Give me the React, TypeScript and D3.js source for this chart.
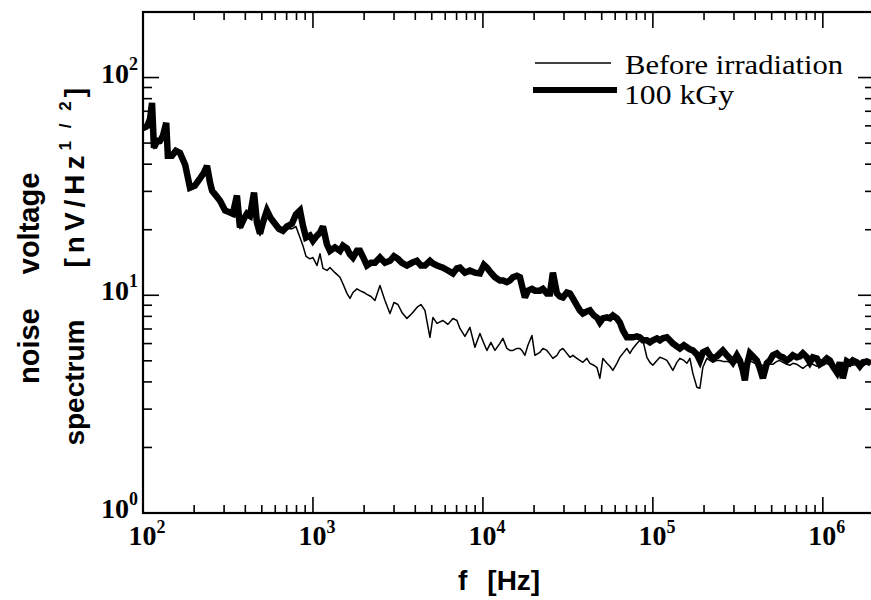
import React from "react";
import * as d3 from "d3";

// ---- data ----
const freq = [100,106,110,113,116,121,126,131,137,140,148,156,165,177,189,202,216,228,238,248,255,269,284,304,325,338,357,372,393,409,426,450,468,488,508,536,566,598,631,666,703,752,794,839,873,910,960,1000,1056,1100,1145,1209,1259,1347,1442,1501,1585,1651,1719,1815,1890,1995,2078,2194,2316,2478,2652,2838,2996,3162,3338,3572,3822,4090,4318,4559,4878,5080,5363,5817,6225,6661,7032,7324,7836,8386,8973,9602,10140,10560,11140,11770,12590,13110,13840,14420,15010,15850,16510,16960,17660,18400,19420,20230,21640,22540,23790,24780,25810,27250,28380,29550,31200,32490,33840,35720,37200,38750,40900,42600,44970,46840,48780,50800,53630,55850,58170,61410,63960,66610,70320,73240,76270,80520,83860,87340,92200,96020,100000,105600,110000,114500,120900,125900,131100,138400,144200,152200,158500,165100,171900,181500,189000,196800,207800,216400,225400,237900,247800,258100,272500,283800,295500,312000,324900,338400,347700,357200,372000,387500,409000,426000,443700,468400,487800,508000,536300,558500,581700,614100,639600,666100,703200,732400,762700,805200,838600,873400,922000,960200,1000000,1056000,1100000,1145000,1209000,1259000,1311000,1384000,1442000,1501000,1585000,1651000,1719000,1815000,1916000];

const after100kGy = [58.7,60.0,64.6,76.5,47.6,51.2,51.2,54.0,61.9,43.7,43.7,46.1,45.1,39.8,31.2,31.9,34.3,36.5,39.3,32.9,30.2,28.7,27.2,24.5,24.0,23.7,28.7,20.5,22.5,23.7,23.2,29.6,21.6,19.2,21.6,24.5,22.5,21.3,20.2,19.8,20.7,21.3,23.5,24.5,20.9,18.4,18.8,17.8,18.8,19.4,20.7,17.1,16.0,16.6,16.0,16.9,16.4,15.4,14.9,16.0,16.0,14.7,13.7,14.1,14.1,14.9,14.1,14.4,15.1,14.7,14.1,13.7,14.1,14.4,13.7,13.7,14.4,14.0,13.7,13.4,13.0,12.6,13.3,13.4,12.7,13.0,12.7,12.6,13.8,13.4,12.7,12.1,11.7,11.7,11.5,11.7,12.1,12.3,12.1,11.1,9.77,10.5,10.7,10.5,10.5,10.7,10.2,10.2,12.7,10.2,9.87,9.77,10.3,10.2,9.67,8.98,8.52,8.25,8.43,8.52,8.08,7.91,7.50,7.83,7.91,7.83,8.08,7.83,7.50,6.90,6.41,6.41,6.41,6.47,6.41,6.21,6.21,6.08,6.21,6.34,6.21,6.34,6.41,6.21,6.01,5.83,5.70,5.89,5.77,5.64,5.58,5.35,5.02,5.47,5.58,5.30,5.13,5.24,5.41,5.58,5.30,5.13,4.92,5.30,5.02,4.52,4.07,4.77,5.41,5.24,5.02,4.62,4.16,4.87,5.02,5.30,5.41,5.24,5.19,5.02,5.13,5.30,5.19,5.24,5.41,5.19,4.92,5.19,5.13,4.82,4.92,5.13,5.02,4.72,4.43,4.92,4.16,4.97,4.87,5.02,4.92,4.72,4.92,4.97,4.87];

const beforeIrradiation = [56.9,58.1,63.3,71.8,47.1,50.2,49.6,52.3,58.1,42.8,42.8,45.1,44.2,38.1,30.9,31.5,33.6,35.8,37.3,32.2,29.6,28.1,26.3,24.0,23.5,23.0,27.2,20.2,22.0,23.0,22.5,27.2,21.1,18.8,20.7,23.5,22.0,20.7,19.8,19.4,20.2,20.2,20.7,18.4,16.9,15.1,14.7,14.9,13.7,15.5,13.3,13.0,13.4,12.7,12.1,11.3,10.2,9.67,10.3,10.7,10.5,10.3,10.1,9.87,9.47,11.1,9.47,8.25,9.27,9.07,8.34,7.83,8.25,8.79,9.07,8.52,6.41,7.91,7.43,7.66,7.35,7.83,7.66,7.04,6.47,7.12,5.77,6.68,6.01,5.58,6.08,5.58,6.01,6.34,5.70,5.58,5.58,5.70,5.70,5.58,5.30,5.89,6.54,5.30,5.47,5.70,5.58,5.35,5.13,5.30,5.58,5.70,5.41,5.19,5.30,5.13,5.02,4.92,5.13,4.87,4.77,4.67,4.16,5.13,4.87,4.72,4.52,4.87,5.19,5.41,5.70,5.41,5.70,6.01,6.21,6.21,5.19,4.92,4.77,5.02,5.19,5.13,5.02,4.77,4.52,4.92,5.13,5.02,4.87,5.13,4.38,3.78,3.74,4.67,5.13,5.02,4.92,5.02,5.02,4.97,4.97,4.92,4.87,4.92,4.92,4.77,4.72,4.82,5.02,4.92,4.82,4.72,4.77,4.82,4.82,4.82,4.97,5.02,4.92,4.82,4.77,4.87,4.82,4.72,4.62,4.77,4.82,4.82,4.72,4.77,4.77,4.87,4.77,4.72,4.77,4.77,4.82,4.72,4.77,4.77,4.82,4.72,4.72,4.87,4.82,4.82];

const xDomain = [100, 2e6];
const yDomain = [1, 200];
const xMajorTicks = [1e2, 1e3, 1e4, 1e5, 1e6];
const xTickExponents = ["2", "3", "4", "5", "6"];
const yMajorTicks = [1, 10, 100];
const yTickExponents = ["0", "1", "2"];
const legendLabels = ["Before irradiation", "100 kGy"];

const W = 871, H = 600;
const L = 143, R = 874, T = 12, B = 513;

export default function App() {
  const x = d3.scaleLog().domain(xDomain).range([L, R]);
  const y = d3.scaleLog().domain(yDomain).range([B, T]);

  const xMinor = x.ticks().filter((v) => v >= xDomain[0] && v <= xDomain[1] && !xMajorTicks.includes(v));
  const yMinor = y.ticks().filter((v) => v >= yDomain[0] && v <= yDomain[1] && !yMajorTicks.includes(v));

  const line = d3
    .line<number>()
    .x((_, i) => x(freq[i]))
    .y((d) => y(d));

  const serif = "'Liberation Serif', 'Times New Roman', serif";
  const sans = "'Liberation Sans', Arial, Helvetica, sans-serif";
  const majorLen = 16, minorLen = 8;

  return (
    <svg width={W} height={H} style={{ position: "absolute", left: 0, top: 0, background: "#fff" }}>
      <defs>
        <clipPath id="plotClip">
          <rect x={L} y={T} width={R - L} height={B - T} />
        </clipPath>
      </defs>
      <rect x={0} y={0} width={W} height={H} fill="#fff" />

      {/* data */}
      <g clipPath="url(#plotClip)" fill="none" stroke="#000">
        <path d={line(after100kGy) || ""} strokeWidth={6.5} strokeLinejoin="miter" strokeMiterlimit={3} />
        <path d={line(beforeIrradiation) || ""} strokeWidth={1.5} strokeLinejoin="round" />
      </g>

      {/* frame */}
      <rect x={L} y={T} width={R - L} height={B - T} fill="none" stroke="#000" strokeWidth={2.2} />

      {/* ticks */}
      <g stroke="#000" strokeWidth={1.6}>
        {xMajorTicks.map((v) => (
          <g key={"xM" + v}>
            <line x1={x(v)} x2={x(v)} y1={B} y2={B - majorLen} />
            <line x1={x(v)} x2={x(v)} y1={T} y2={T + majorLen} />
          </g>
        ))}
        {xMinor.map((v) => (
          <g key={"xm" + v}>
            <line x1={x(v)} x2={x(v)} y1={B} y2={B - minorLen} />
            <line x1={x(v)} x2={x(v)} y1={T} y2={T + minorLen} />
          </g>
        ))}
        {yMajorTicks.map((v) => (
          <g key={"yM" + v}>
            <line x1={L} x2={L + majorLen} y1={y(v)} y2={y(v)} />
            <line x1={R} x2={R - majorLen} y1={y(v)} y2={y(v)} />
          </g>
        ))}
        {yMinor.map((v) => (
          <g key={"ym" + v}>
            <line x1={L} x2={L + minorLen + 1} y1={y(v)} y2={y(v)} />
            <line x1={R} x2={R - minorLen - 1} y1={y(v)} y2={y(v)} />
          </g>
        ))}
      </g>

      {/* tick labels */}
      <g fontFamily={serif} fontWeight="bold" fill="#000">
        {xMajorTicks.map((v, i) => (
          <text key={"xl" + v} x={x(v) + 4} y={545} textAnchor="middle" fontSize={28}>
            10
            <tspan fontSize={18} dy={-12}>{xTickExponents[i]}</tspan>
          </text>
        ))}
        {yMajorTicks.map((v, i) => (
          <text key={"yl" + v} x={138} y={y(v) + 5} textAnchor="end" fontSize={28}>
            10
            <tspan fontSize={18} dy={-13}>{yTickExponents[i]}</tspan>
          </text>
        ))}
      </g>

      {/* axis titles */}
      <g fontFamily={sans} fontWeight="bold" fill="#000">
        <text x={458} y={590} fontSize={28}>
          f<tspan dx={20}>[Hz]</tspan>
        </text>
        <text transform="translate(39,384) rotate(-90)" textAnchor="start" fontSize={29}>
          noise<tspan dx={34}>voltage</tspan>
        </text>
        <text transform="translate(84,88) rotate(-90)" textAnchor="end" fontSize={28}>
          spectrum
          <tspan dx={52} letterSpacing={5}>[nV/Hz</tspan>
          <tspan fontSize={17} dy={-13} letterSpacing={4}>1 / 2</tspan>
          <tspan dy={13}>]</tspan>
        </text>
      </g>

      {/* legend */}
      <g>
        <line x1={535} x2={611} y1={63} y2={63} stroke="#000" strokeWidth={1.5} />
        <line x1={533} x2={617} y1={90} y2={90} stroke="#000" strokeWidth={6} />
        <text x={625} y={74} fontFamily={serif} fontSize={27} fill="#000" textLength={218} lengthAdjust="spacingAndGlyphs">{legendLabels[0]}</text>
        <text x={624} y={104} fontFamily={serif} fontSize={27} fill="#000" textLength={110} lengthAdjust="spacingAndGlyphs">{legendLabels[1]}</text>
      </g>
    </svg>
  );
}
